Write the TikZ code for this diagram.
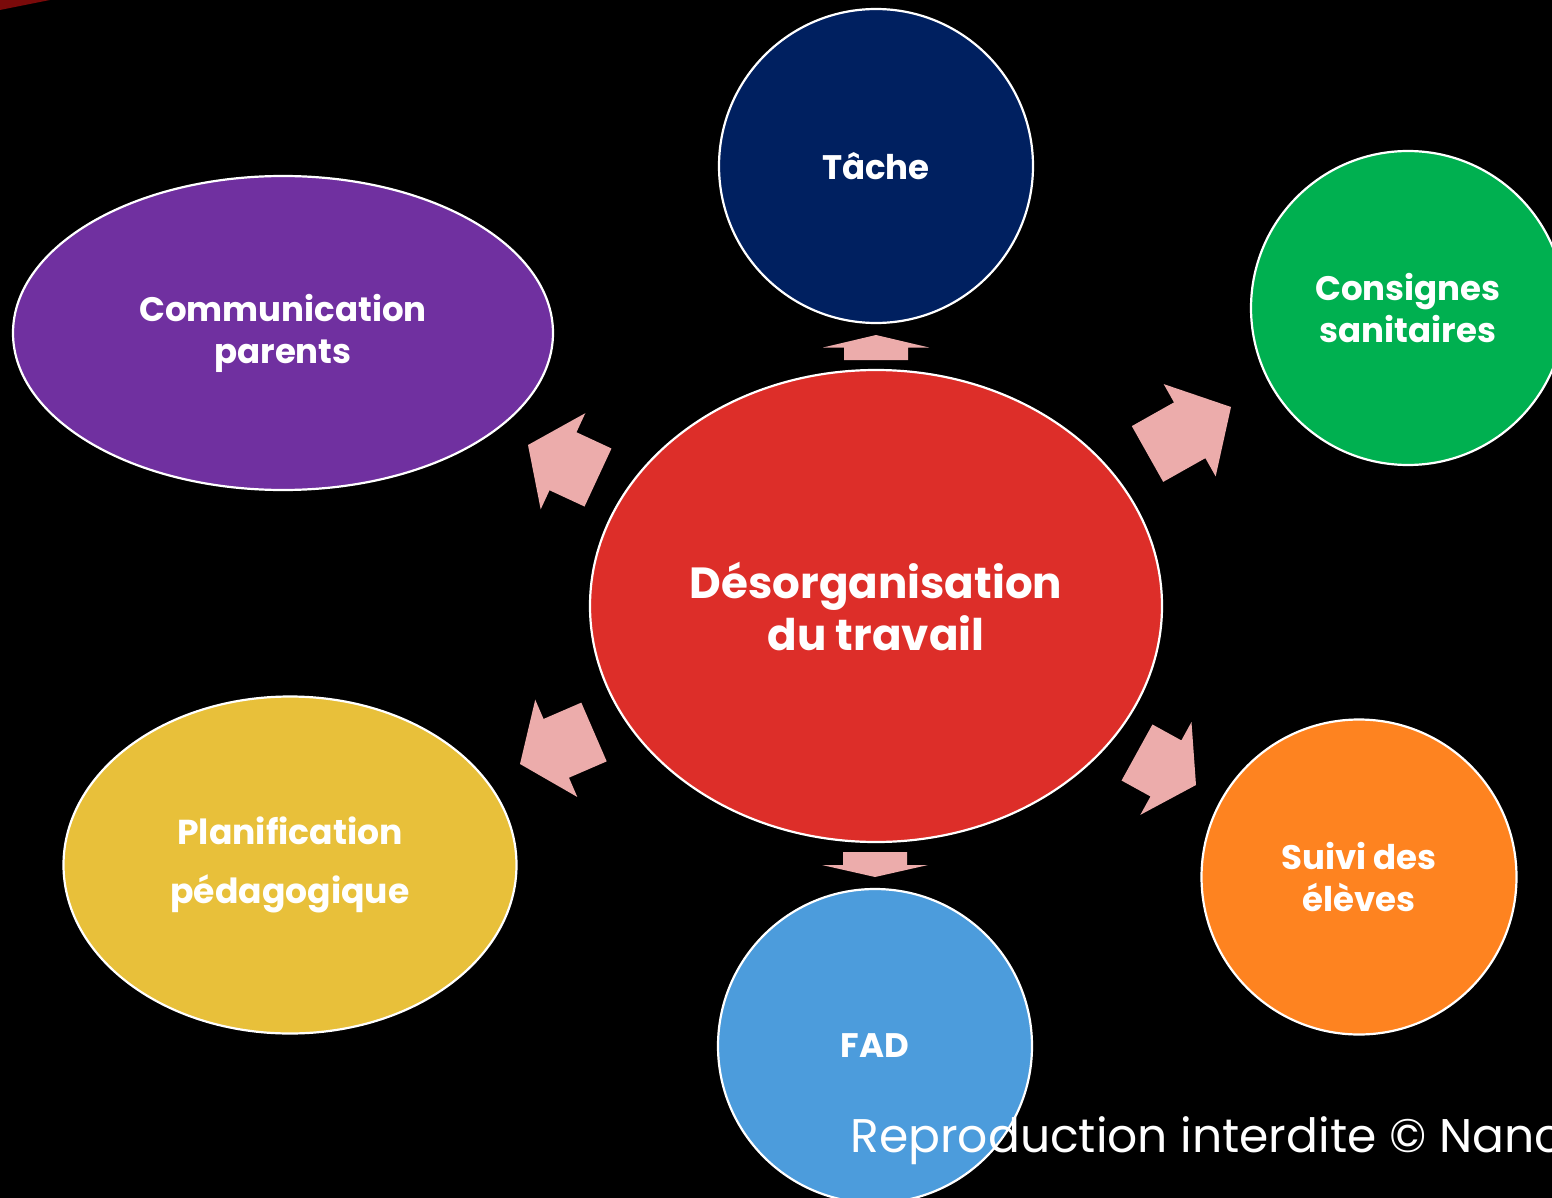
\documentclass[tikz,border=0pt]{standalone}
\usepackage{fontspec}
\setmainfont{Poppins}
\usetikzlibrary{shapes.geometric,calc}

\definecolor{navyfill}{HTML}{002060}
\definecolor{purplefill}{HTML}{7030A0}
\definecolor{greenfill}{HTML}{00B050}
\definecolor{redfill}{HTML}{DD2E29}
\definecolor{yellowfill}{HTML}{E8C03A}
\definecolor{bluefill}{HTML}{4C9CDC}
\definecolor{orangefill}{HTML}{FE8320}
\definecolor{arrowfill}{HTML}{ECACAB}
\definecolor{streak}{HTML}{7A0A0A}

% block arrow: #1 tail midpoint, #2 tip, #3 fraction where the head starts
\newcommand\blockarrow[3]{%
  \path ($(#1)!#3!(#2)$) coordinate (hb);
  \fill[arrowfill]
    ($(#1)!16pt!90:(#2)$) -- ($(hb)!16pt!90:(#2)$) -- ($(hb)!26.5pt!90:(#2)$)
    -- (#2)
    -- ($(hb)!26.5pt!-90:(#2)$) -- ($(hb)!16pt!-90:(#2)$) -- ($(#1)!16pt!-90:(#2)$)
    -- cycle;}

\begin{document}
\begin{tikzpicture}[x=0.5pt,y=-0.5pt,
  bubble/.style={ellipse, draw=white, line width=1.1pt, inner sep=0pt,
    text=white, align=center, font=\bfseries\fontsize{17}{21}\selectfont}]
\useasboundingbox (0,0) rectangle (1552,1198);
\fill[black] (0,0) rectangle (1552,1198);
\clip (0,0) rectangle (1552,1198);
\fill[streak] (0,0) -- (50,0) -- (0,10) -- cycle;

% satellites
\node[bubble, fill=navyfill, minimum width=157pt, minimum height=157pt] (tache) at (876,166) {Tâche};
\node[bubble, fill=purplefill, minimum width=270pt, minimum height=157pt] (comm) at (283,333) {Communication\\parents};
\node[bubble, fill=greenfill, minimum width=157pt, minimum height=157pt] (cons) at (1408,308) {Consignes\\sanitaires};
\node[bubble, fill=yellowfill, minimum width=226.5pt, minimum height=168.5pt,
  font=\bfseries\fontsize{17.3}{29.5}\selectfont] (planif) at (290,865) {Planification\\pédagogique};
\node[bubble, fill=bluefill, minimum width=157pt, minimum height=157pt] (fad) at (875,1046) {FAD};
\node[bubble, fill=orangefill, minimum width=157.5pt, minimum height=157.5pt] (suivi) at (1359,877) {Suivi des\\élèves};

% centre
\node[bubble, fill=redfill, minimum width=286pt, minimum height=236pt,
  font=\bfseries\fontsize{21.8}{26}\selectfont] (ctr) at (876,606) {Désorganisation\\du travail};

% block arrows from the centre outwards
\coordinate (upT) at (876,360);   \coordinate (upH) at (876,335);
\coordinate (dnT) at (875,852);   \coordinate (dnH) at (875,877);
\coordinate (ulT) at (598,477.5); \coordinate (ulH) at (528,445);
\coordinate (urT) at (1147.5,454);\coordinate (urH) at (1231,407);
\coordinate (lrT) at (1137,752.5);\coordinate (lrH) at (1196,785);
\coordinate (llT) at (594,732);   \coordinate (llH) at (520,764);
\blockarrow{upT}{upH}{0.5}
\blockarrow{dnT}{dnH}{0.52}
\blockarrow{ulT}{ulH}{0.5}
\blockarrow{urT}{urH}{0.505}
\blockarrow{lrT}{lrH}{0.49}
\blockarrow{llT}{llH}{0.51}

% watermark, running off the right edge
\node[anchor=base west, inner sep=0pt, text=white, font=\fontsize{23.6}{28}\selectfont] (wm) at (850,1152) {Reproduction interdite © Nancy};
\end{tikzpicture}
\end{document}
